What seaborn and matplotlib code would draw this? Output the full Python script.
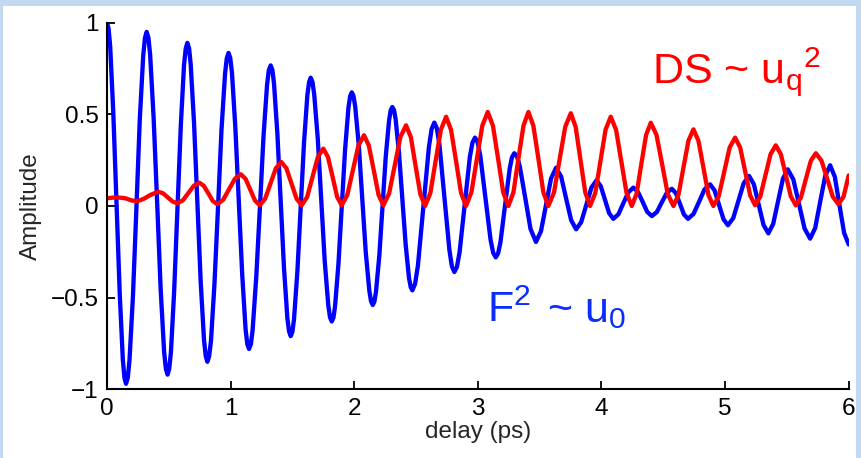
import matplotlib
matplotlib.use('Agg')
import matplotlib.pyplot as plt
import seaborn as sns
from matplotlib.patches import Rectangle

# ---------------- data ----------------
blue_t = [0, 0.013, 0.026, 0.051, 0.077, 0.103, 0.128, 0.141, 0.154,
          0.168, 0.182, 0.210, 0.238, 0.265, 0.293, 0.307, 0.321,
          0.335, 0.349, 0.377, 0.406, 0.434, 0.462, 0.476, 0.490,
          0.503, 0.517, 0.543, 0.570, 0.597, 0.623, 0.637, 0.650,
          0.664, 0.677, 0.704, 0.731, 0.758, 0.785, 0.799, 0.812,
          0.826, 0.841, 0.869, 0.898, 0.926, 0.955, 0.969, 0.983,
          0.997, 1.011, 1.038, 1.066, 1.094, 1.121, 1.135, 1.149,
          1.164, 1.178, 1.207, 1.237, 1.266, 1.295, 1.309, 1.324,
          1.338, 1.351, 1.378, 1.405, 1.432, 1.459, 1.473, 1.486,
          1.500, 1.513, 1.540, 1.567, 1.594, 1.621, 1.635, 1.648,
          1.662, 1.676, 1.705, 1.733, 1.761, 1.790, 1.804, 1.818,
          1.832, 1.845, 1.872, 1.899, 1.926, 1.953, 1.967, 1.980,
          1.994, 2.008, 2.037, 2.065, 2.093, 2.122, 2.136, 2.150,
          2.163, 2.176, 2.203, 2.229, 2.255, 2.282, 2.295, 2.308,
          2.322, 2.335, 2.362, 2.389, 2.416, 2.443, 2.457, 2.470,
          2.492, 2.515, 2.559, 2.604, 2.626, 2.648,
          2.668, 2.689, 2.729, 2.770, 2.790, 2.810,
          2.831, 2.852, 2.894, 2.935, 2.956, 2.977,
          2.998, 3.019, 3.061, 3.103, 3.124, 3.145,
          3.164, 3.183, 3.220, 3.258, 3.276, 3.295,
          3.317, 3.339, 3.383, 3.426, 3.470,
          3.511, 3.552, 3.592, 3.633,
          3.674, 3.714, 3.755, 3.795,
          3.836, 3.878, 3.919, 3.960,
          3.994, 4.028, 4.062, 4.096,
          4.137, 4.177, 4.218, 4.258,
          4.295, 4.333, 4.370, 4.407,
          4.448, 4.488, 4.529, 4.569,
          4.602, 4.635, 4.667, 4.700,
          4.745, 4.790, 4.834, 4.879,
          4.915, 4.951, 4.987, 5.023,
          5.066, 5.109, 5.151, 5.194,
          5.233, 5.272, 5.311, 5.350,
          5.389, 5.429, 5.468, 5.507,
          5.552, 5.598, 5.643, 5.688,
          5.729, 5.769, 5.810, 5.850,
          5.888, 5.925, 5.963, 6.000]

blue_v = [1.000, 0.967, 0.868, 0.508, 0.015, -0.478, -0.838, -0.937, -0.970,
          -0.937, -0.841, -0.490, -0.010, 0.470, 0.821, 0.917, 0.950,
          0.918, 0.825, 0.483, 0.015, -0.453, -0.795, -0.888, -0.920,
          -0.889, -0.799, -0.468, -0.015, 0.438, 0.769, 0.859, 0.890,
          0.860, 0.773, 0.455, 0.020, -0.415, -0.733, -0.820, -0.850,
          -0.821, -0.737, -0.429, -0.008, 0.414, 0.722, 0.806, 0.835,
          0.808, 0.727, 0.431, 0.028, -0.376, -0.672, -0.753, -0.780,
          -0.754, -0.676, -0.393, -0.007, 0.380, 0.663, 0.741, 0.767,
          0.742, 0.668, 0.398, 0.029, -0.341, -0.611, -0.685, -0.710,
          -0.686, -0.616, -0.358, -0.005, 0.348, 0.606, 0.676, 0.700,
          0.677, 0.611, 0.368, 0.035, -0.298, -0.541, -0.607, -0.630,
          -0.609, -0.546, -0.318, -0.005, 0.308, 0.536, 0.599, 0.620,
          0.600, 0.542, 0.330, 0.040, -0.250, -0.462, -0.520, -0.540,
          -0.522, -0.468, -0.270, 0.000, 0.270, 0.468, 0.522, 0.540,
          0.523, 0.473, 0.290, 0.040, -0.210, -0.393, -0.443, -0.460,
          -0.425, -0.326, -0.003, 0.321, 0.420, 0.455,
          0.424, 0.336, 0.048, -0.241, -0.329, -0.360,
          -0.332, -0.253, 0.007, 0.266, 0.345, 0.373,
          0.348, 0.278, 0.047, -0.185, -0.255, -0.280,
          -0.258, -0.197, 0.004, 0.205, 0.266, 0.288,
          0.270, 0.217, 0.046, -0.125, -0.196,
          -0.137, 0.007, 0.150, 0.209,
          0.160, 0.041, -0.078, -0.127,
          -0.088, 0.007, 0.101, 0.140,
          0.109, 0.035, -0.039, -0.070,
          -0.045, 0.015, 0.075, 0.100,
          0.077, 0.023, -0.032, -0.055,
          -0.033, 0.020, 0.072, 0.094,
          0.070, 0.012, -0.046, -0.070,
          -0.043, 0.024, 0.091, 0.118,
          0.085, 0.007, -0.072, -0.105,
          -0.066, 0.030, 0.125, 0.164,
          0.118, 0.008, -0.103, -0.149,
          -0.098, 0.026, 0.149, 0.200,
          0.145, 0.011, -0.123, -0.178,
          -0.120, 0.022, 0.164, 0.222,
          0.159, 0.006, -0.147, -0.210]

red_t = [0, 0.05, 0.10, 0.15, 0.20, 0.25, 0.30, 0.35, 0.415,
         0.454, 0.492, 0.531, 0.569,
         0.614, 0.658, 0.703, 0.747,
         0.783, 0.820, 0.856, 0.892,
         0.940, 0.988, 1.035, 1.083,
         1.121, 1.159, 1.197, 1.235,
         1.279, 1.323, 1.366, 1.410,
         1.451, 1.493, 1.534, 1.575,
         1.619, 1.663, 1.706, 1.750,
         1.787, 1.825, 1.862, 1.899,
         1.944, 1.989, 2.034, 2.079,
         2.118, 2.158, 2.197, 2.236,
         2.282, 2.328, 2.373, 2.419,
         2.458, 2.496, 2.535, 2.573,
         2.616, 2.658, 2.701, 2.743,
         2.783, 2.824, 2.864, 2.904,
         2.948, 2.992, 3.036, 3.080,
         3.122, 3.164, 3.205, 3.247,
         3.288, 3.328, 3.369, 3.409,
         3.449, 3.490, 3.530, 3.570,
         3.616, 3.661, 3.707, 3.752,
         3.791, 3.830, 3.869, 3.908,
         3.950, 3.992, 4.033, 4.075,
         4.118, 4.160, 4.203, 4.245,
         4.284, 4.322, 4.361, 4.399,
         4.445, 4.491, 4.536, 4.582,
         4.623, 4.663, 4.704, 4.744,
         4.784, 4.825, 4.865, 4.905,
         4.949, 4.993, 5.037, 5.081,
         5.122, 5.162, 5.203, 5.243,
         5.285, 5.327, 5.368, 5.410,
         5.451, 5.491, 5.532, 5.572,
         5.613, 5.653, 5.694, 5.734,
         5.780, 5.826, 5.871, 5.917,
         5.958, 6.000]

red_v = [0.042, 0.046, 0.046, 0.042, 0.030, 0.027, 0.040, 0.060, 0.078,
         0.069, 0.047, 0.024, 0.015,
         0.031, 0.071, 0.111, 0.127,
         0.110, 0.069, 0.027, 0.010,
         0.034, 0.092, 0.149, 0.173,
         0.148, 0.089, 0.030, 0.005,
         0.039, 0.123, 0.206, 0.240,
         0.206, 0.122, 0.039, 0.004,
         0.049, 0.159, 0.268, 0.313,
         0.268, 0.159, 0.049, 0.004,
         0.060, 0.195, 0.330, 0.386,
         0.330, 0.195, 0.060, 0.004,
         0.068, 0.222, 0.376, 0.440,
         0.376, 0.220, 0.064, 0.000,
         0.071, 0.244, 0.416, 0.487,
         0.416, 0.244, 0.071, 0.000,
         0.075, 0.257, 0.438, 0.513,
         0.438, 0.257, 0.075, 0.000,
         0.075, 0.257, 0.438, 0.513,
         0.438, 0.257, 0.075, 0.000,
         0.074, 0.253, 0.432, 0.506,
         0.432, 0.253, 0.074, 0.000,
         0.071, 0.244, 0.416, 0.487,
         0.416, 0.244, 0.071, 0.000,
         0.066, 0.227, 0.388, 0.454,
         0.388, 0.227, 0.066, 0.000,
         0.061, 0.209, 0.357, 0.418,
         0.357, 0.209, 0.061, 0.000,
         0.054, 0.187, 0.319, 0.373,
         0.319, 0.189, 0.058, 0.004,
         0.052, 0.168, 0.283, 0.331,
         0.283, 0.168, 0.052, 0.004,
         0.045, 0.146, 0.247, 0.288,
         0.247, 0.149, 0.051, 0.010,
         0.050, 0.167]

x_ticks = [0, 1, 2, 3, 4, 5, 6]
x_tick_labels = ['0', '1', '2', '3', '4', '5', '6']
y_ticks = [-1, -0.5, 0, 0.5, 1]
y_tick_labels = ['\u22121', '\u22120.5', '0', '0.5', '1']

# ---------------- style ----------------
sns.set_style('ticks')
plt.rcParams['font.family'] = ['Liberation Sans', 'DejaVu Sans']
plt.rcParams['mathtext.fontset'] = 'custom'
plt.rcParams['mathtext.rm'] = 'Liberation Sans'
plt.rcParams['mathtext.it'] = 'Liberation Sans'
plt.rcParams['mathtext.bf'] = 'Liberation Sans'

W, H = 862, 458
fig = plt.figure(figsize=(W / 100, H / 100), dpi=100)
fig.patch.set_facecolor('#c2d9f1')
fig.patches.append(Rectangle((3 / W, 0), (856 - 3) / W, (H - 6) / H,
                             transform=fig.transFigure, facecolor='white',
                             edgecolor='none', zorder=-5))

left, right, top, bottom = 107, 848.7, 22.7, 389.3
ax = fig.add_axes([left / W, 1 - bottom / H, (right - left) / W, (bottom - top) / H])
ax.set_zorder(1)
ax.set_facecolor('white')

sns.lineplot(x=blue_t, y=blue_v, color='#0000ff', linewidth=3.1,
             sort=False, estimator=None, ax=ax)
sns.lineplot(x=red_t, y=red_v, color='#ff0000', linewidth=3.1,
             sort=False, estimator=None, ax=ax)
for ln in ax.lines:
    ln.set_solid_joinstyle('round')
    ln.set_solid_capstyle('round')

ax.set_xlim(0, 6)
ax.set_ylim(-1, 1)
ax.set_xticks(x_ticks)
ax.set_xticklabels(x_tick_labels)
ax.set_yticks(y_ticks)
ax.set_yticklabels(y_tick_labels)
ax.tick_params(direction='in', length=6, width=1.3, labelsize=17.5, pad=6,
               colors='black')
sns.despine(ax=ax)
for s in ('left', 'bottom'):
    ax.spines[s].set_linewidth(1.5)
    ax.spines[s].set_color('black')

ax.set_xlabel('delay (ps)', fontsize=17.5, labelpad=1)
ax.set_ylabel('Amplitude', fontsize=17.5, labelpad=6)

ax.text(4.407, 0.673, r'DS ~ $\mathregular{u_q{}^2}$', color='#ff0000',
        fontsize=31, ha='left', va='baseline')
ax.text(3.072, -0.631, r'F$^\mathregular{2}$', color='#0a2cff',
        fontsize=31, ha='left', va='baseline')
ax.text(3.557, -0.631, r'~ $\mathregular{u_0}$', color='#0a2cff',
        fontsize=31, ha='left', va='baseline')

fig.savefig('out.png', dpi=100, facecolor=fig.get_facecolor())
